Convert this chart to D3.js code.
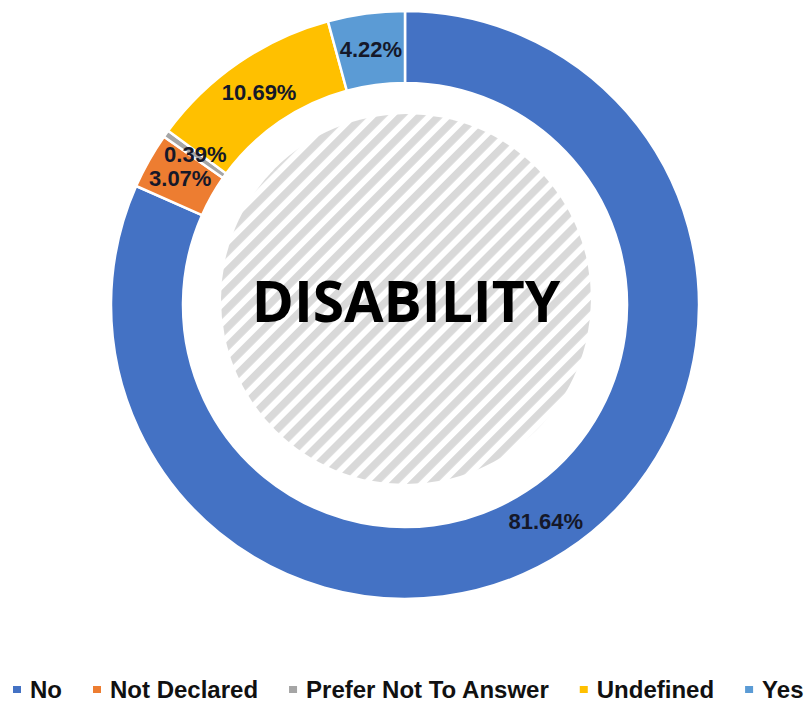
<!DOCTYPE html>
<html>
<head>
  <meta charset="utf-8">
  <script src="https://d3js.org/d3.v7.min.js"></script>
  <style>
    body { margin: 0; background: #fff; }
  </style>
</head>
<body>
<script>
  var width = 811, height = 707;

  // data
  var categories = ["No", "Not Declared", "Prefer Not To Answer", "Undefined", "Yes"];
  var values = [81.64, 3.07, 0.39, 10.69, 4.22];
  var labels = ["81.64%", "3.07%", "0.39%", "10.69%", "4.22%"];
  var colors = ["#4472C4", "#ED7D31", "#A5A5A5", "#FFC000", "#5B9BD5"];
  var title = "DISABILITY";

  var cx = 405, cy = 305, outerR = 294, innerR = 222;

  var svg = d3.select("body").append("svg")
      .attr("width", width).attr("height", height);

  // hatch pattern for the centre
  var defs = svg.append("defs");
  var pat = defs.append("pattern")
      .attr("id", "hatch")
      .attr("patternUnits", "userSpaceOnUse")
      .attr("width", 13.4).attr("height", 13.4)
      .attr("patternTransform", "rotate(45)");
  pat.append("rect").attr("width", 13.4).attr("height", 13.4).attr("fill", "#fff");
  pat.append("rect").attr("width", 7.5).attr("height", 13.4).attr("fill", "#d9d9d9");

  svg.append("circle")
      .attr("cx", cx + 1).attr("cy", cy - 6).attr("r", 185)
      .attr("fill", "url(#hatch)");

  var pie = d3.pie().sort(null).value(function(d) { return d; });
  var arc = d3.arc().innerRadius(innerR).outerRadius(outerR);
  var arcs = pie(values);

  var g = svg.append("g").attr("transform", "translate(" + cx + "," + cy + ")");

  g.selectAll("path.slice")
    .data(arcs)
    .enter().append("path")
      .attr("class", "slice")
      .attr("d", arc)
      .attr("fill", function(d, i) { return colors[i]; })
      .attr("stroke", "#fff")
      .attr("stroke-width", 2.5);

  g.selectAll("text.lbl")
    .data(arcs)
    .enter().append("text")
      .attr("class", "lbl")
      .attr("transform", function(d) { return "translate(" + arc.centroid(d) + ")"; })
      .attr("text-anchor", "middle")
      .attr("dy", "0.35em")
      .style("font-family", "'Liberation Sans', Arial, sans-serif")
      .style("font-weight", "bold")
      .style("font-size", "22px")
      .style("fill", "#151829")
      .text(function(d, i) { return labels[i]; });

  svg.append("text")
      .attr("x", cx + 1).attr("y", 322)
      .attr("text-anchor", "middle")
      .style("font-family", "'Open Sans', 'Noto Sans', sans-serif")
      .style("font-weight", "bold")
      .style("font-size", "57px")
      .style("fill", "#000")
      .text(title);

  // legend
  var legend = svg.append("g");
  var lx = 13;
  categories.forEach(function(c, i) {
    var item = legend.append("g").attr("transform", "translate(" + lx + ",0)");
    item.append("rect")
        .attr("x", 0).attr("y", 686).attr("width", 8).attr("height", 7)
        .attr("fill", colors[i]);
    var t = item.append("text")
        .attr("x", 17).attr("y", 698)
        .style("font-family", "'Liberation Sans', Arial, sans-serif")
        .style("font-weight", "bold")
        .style("font-size", "24px")
        .style("fill", "#111")
        .text(c);
    lx += 17 + t.node().getComputedTextLength() + 31;
  });
</script>
</body>
</html>
